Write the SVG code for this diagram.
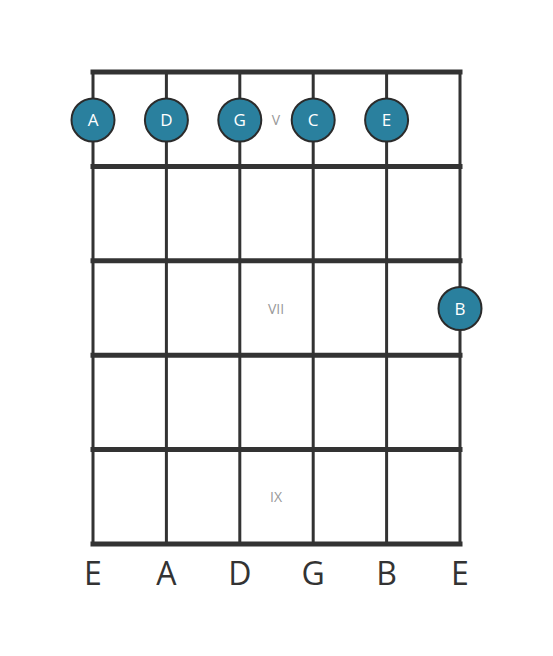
<svg xmlns="http://www.w3.org/2000/svg" width="553" height="656" viewBox="0 0 553 656">
<style>
.fret{stroke:#333;stroke-width:5;stroke-linecap:square}
.str{stroke:#333;stroke-width:3}
.dot{fill:#2a809e;stroke:#2b2b2b;stroke-width:2}
.dt{fill:#fff;font-family:"Open Sans",sans-serif;font-size:17px;text-anchor:middle}
.fn{fill:#999;font-family:"Open Sans",sans-serif;font-size:14px;text-anchor:middle}
.sl{fill:#333;font-family:"Open Sans",sans-serif;font-size:32px;text-anchor:middle}
</style>
<rect width="553" height="656" fill="#fff"/>
<g id="connectors">
<line class="str" x1="93" y1="72" x2="93" y2="544"/>
<line class="str" x1="166.4" y1="72" x2="166.4" y2="544"/>
<line class="str" x1="239.8" y1="72" x2="239.8" y2="544"/>
<line class="str" x1="313.2" y1="72" x2="313.2" y2="544"/>
<line class="str" x1="386.6" y1="72" x2="386.6" y2="544"/>
<line class="str" x1="460" y1="72" x2="460" y2="544"/>
<line class="fret" x1="93" y1="72" x2="460" y2="72"/>
<line class="fret" x1="93" y1="166.4" x2="460" y2="166.4"/>
<line class="fret" x1="93" y1="260.8" x2="460" y2="260.8"/>
<line class="fret" x1="93" y1="355.2" x2="460" y2="355.2"/>
<line class="fret" x1="93" y1="449.6" x2="460" y2="449.6"/>
<line class="fret" x1="93" y1="544" x2="460" y2="544"/>
</g>
<g id="fret-labels">
<text class="fn" x="276" y="125">V</text>
<text class="fn" x="276" y="314">VII</text>
<text class="fn" x="276" y="502">IX</text>
</g>
<g id="note-A"><circle class="dot" cx="93" cy="120" r="21.5"/><text class="dt" x="93" y="126">A</text></g>
<g id="note-D"><circle class="dot" cx="166.4" cy="120" r="21.5"/><text class="dt" x="166.4" y="126">D</text></g>
<g id="note-G"><circle class="dot" cx="239.8" cy="120" r="21.5"/><text class="dt" x="239.8" y="126">G</text></g>
<g id="note-C"><circle class="dot" cx="313.2" cy="120" r="21.5"/><text class="dt" x="313.2" y="126">C</text></g>
<g id="note-E"><circle class="dot" cx="386.6" cy="120" r="21.5"/><text class="dt" x="386.6" y="126">E</text></g>
<g id="note-B"><circle class="dot" cx="460" cy="308.5" r="21.5"/><text class="dt" x="460" y="314.5">B</text></g>
<g id="string-labels">
<text class="sl" x="93" y="585">E</text>
<text class="sl" x="166.4" y="585">A</text>
<text class="sl" x="239.8" y="585">D</text>
<text class="sl" x="313.2" y="585">G</text>
<text class="sl" x="386.6" y="585">B</text>
<text class="sl" x="460" y="585">E</text>
</g>
</svg>
